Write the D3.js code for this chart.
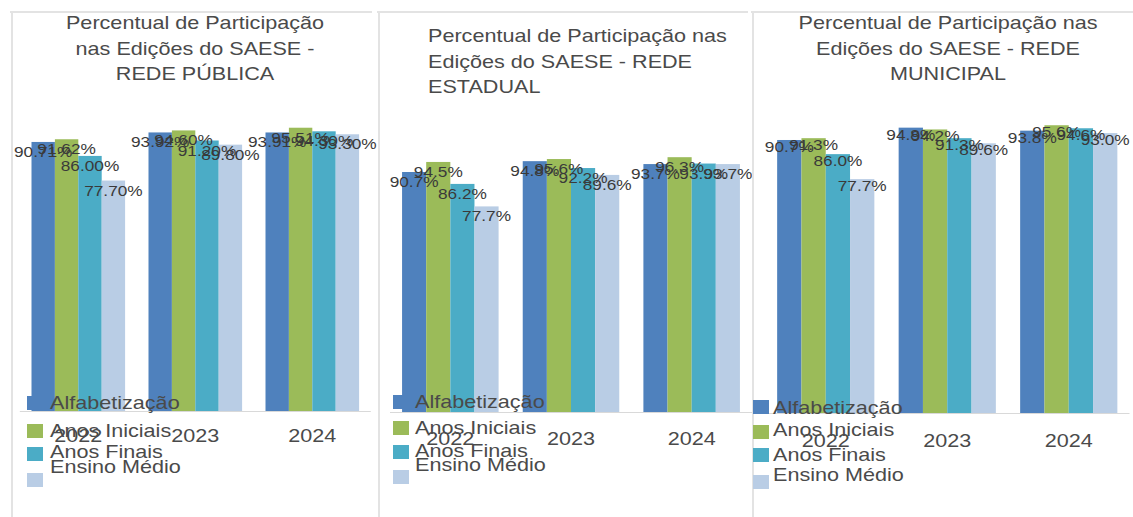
<!DOCTYPE html>
<html>
<head>
<meta charset="utf-8">
<script src="https://cdn.jsdelivr.net/npm/d3@7"></script>
<style>
  body { margin: 0; background: #fff; }
  svg { display: block; font-family: "Liberation Sans", Arial, sans-serif; }
</style>
</head>
<body>
<div id="chart"></div>
<script>
// categories
const years = ["2022", "2023", "2024"];
const series = ["Alfabetização", "Anos Iniciais", "Anos Finais", "Ensino Médio"];
const colors = ["#4f81bd", "#9bbb59", "#4bacc6", "#b9cde5"];

// values per series (rows) and year (columns), in %
const publicaValues = [
  [90.71, 93.92, 93.91],
  [91.62, 94.60, 95.51],
  [86.00, 91.20, 94.30],
  [77.70, 89.80, 93.30]
];
const estadualValues = [
  [90.7, 94.8, 93.7],
  [94.5, 95.6, 96.3],
  [86.2, 92.2, 93.9],
  [77.7, 89.6, 93.7]
];
const municipalValues = [
  [90.7, 94.8, 93.8],
  [91.3, 94.2, 95.6],
  [86.0, 91.3, 94.6],
  [77.7, 89.6, 93.0]
];

const width = 1133, height = 517;
const sx = 1.2; // the screenshot is stretched sideways, so text is too

const svg = d3.select("#chart").append("svg")
  .attr("width", width)
  .attr("height", height);

// layout of each of the three panels
const panels = [
  {
    values: publicaValues, decimals: 2,
    title: ["Percentual de Participação", "nas Edições do SAESE -", "REDE PÚBLICA"],
    titleX: 195, titleY: 29, titleAnchor: "middle",
    xRange: [19.8, 370.8], base: 411, top: 114.4, yearY: 442,
    frameX: 12, frameRight: 372,
    legSquareX: 27, legSquares: [396, 424, 447, 473],
    legTextX: 50, legText: [403, 431, 452, 467], labelOff: 15
  },
  {
    values: estadualValues, decimals: 1,
    title: ["Percentual de Participação nas", "Edições do SAESE - REDE", "ESTADUAL"],
    titleX: 428, titleY: 42, titleAnchor: "start",
    xRange: [390, 752], base: 412, top: 147.4, yearY: 445,
    frameX: 379, frameRight: 748,
    legSquareX: 393, legSquares: [395, 421, 445, 470],
    legTextX: 415, legText: [402, 428, 451, 465], labelOff: 15
  },
  {
    values: municipalValues, decimals: 1,
    title: ["Percentual de Participação nas", "Edições do SAESE - REDE", "MUNICIPAL"],
    titleX: 948, titleY: 29, titleAnchor: "middle",
    xRange: [765, 1129.5], base: 413, top: 112, yearY: 447,
    frameX: 753, frameRight: 1133,
    legSquareX: 753, legSquares: [400, 425, 448, 475],
    legTextX: 773, legText: [408, 430, 455, 475], labelOff: 12
  }
];

panels.forEach(p => {
  const g = svg.append("g");

  // faint panel frame
  g.append("line")
    .attr("x1", p.frameX - 2).attr("x2", p.frameRight)
    .attr("y1", 12).attr("y2", 12)
    .attr("stroke", "#e3e3e3").attr("stroke-width", 2);
  g.append("line")
    .attr("x1", p.frameX).attr("x2", p.frameX)
    .attr("y1", 12).attr("y2", height)
    .attr("stroke", "#e3e3e3").attr("stroke-width", 2);

  // title
  g.append("g").selectAll("text")
    .data(p.title)
    .join("text")
    .attr("transform", (d, i) => `translate(${p.titleX},${p.titleY + i * 25.5}) scale(${sx},1)`)
    .attr("text-anchor", p.titleAnchor)
    .attr("font-size", 18)
    .attr("fill", "#4a4a4a")
    .text(d => d);

  // scales
  const x0 = d3.scaleBand().domain(years).range(p.xRange).paddingInner(0.2).paddingOuter(0.1);
  const x1 = d3.scaleBand().domain(series).range([0, x0.bandwidth()]);
  const y = d3.scaleLinear().domain([0, 100]).range([p.base, p.top]);

  // baseline
  g.append("line")
    .attr("x1", p.xRange[0]).attr("x2", p.xRange[1])
    .attr("y1", p.base + 0.5).attr("y2", p.base + 0.5)
    .attr("stroke", "#d9d9d9");

  // flatten values into one record per bar
  const bars = [];
  series.forEach((s, si) => {
    years.forEach((yr, yi) => {
      bars.push({ series: s, year: yr, si: si, value: p.values[si][yi] });
    });
  });

  g.append("g").selectAll("rect")
    .data(bars)
    .join("rect")
    .attr("x", d => x0(d.year) + x1(d.series))
    .attr("y", d => y(d.value))
    .attr("width", x1.bandwidth())
    .attr("height", d => y(0) - y(d.value))
    .attr("fill", d => colors[d.si]);

  // data labels (they overlap in the original)
  const fmt = d3.format("." + p.decimals + "f");
  g.append("g").selectAll("text")
    .data(bars)
    .join("text")
    .attr("transform", d => `translate(${x0(d.year) + x1(d.series) + x1.bandwidth() / 2},${y(d.value) + p.labelOff}) scale(1.15,1)`)
    .attr("text-anchor", "middle")
    .attr("font-size", 15)
    .attr("fill", "#3a3a3a")
    .text(d => fmt(d.value) + "%");

  // year labels
  g.append("g").selectAll("text")
    .data(years)
    .join("text")
    .attr("transform", d => `translate(${x0(d) + x0.bandwidth() / 2},${p.yearY}) scale(${sx},1)`)
    .attr("text-anchor", "middle")
    .attr("font-size", 18)
    .attr("fill", "#4a4a4a")
    .text(d => d);

  // legend, drawn over the bars like in the screenshot
  const leg = g.append("g");
  leg.selectAll("rect")
    .data(series)
    .join("rect")
    .attr("x", p.legSquareX)
    .attr("y", (d, i) => p.legSquares[i])
    .attr("width", 16)
    .attr("height", 14)
    .attr("fill", (d, i) => colors[i]);
  leg.selectAll("text")
    .data(series)
    .join("text")
    .attr("transform", (d, i) => `translate(${p.legTextX},${p.legText[i]}) scale(${sx},1)`)
    .attr("dy", "0.35em")
    .attr("font-size", 18)
    .attr("fill", "#4a4a4a")
    .text(d => d);
});
</script>
</body>
</html>
